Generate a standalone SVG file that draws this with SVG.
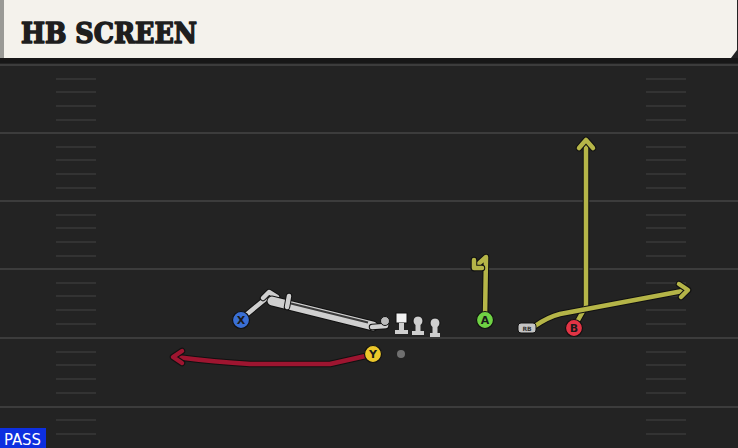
<svg xmlns="http://www.w3.org/2000/svg" width="738" height="448" viewBox="0 0 738 448">
<style>
.yard{stroke:#3c3c3c;stroke-width:2}
.hash{stroke:#333;stroke-width:2}
.ol{fill:none;stroke:#111;stroke-width:6.5;stroke-linecap:round;stroke-linejoin:round}
.rt{fill:none;stroke-width:4.5;stroke-linecap:round;stroke-linejoin:round}
.yel{stroke:#b5b548}
.red{stroke:#9e1530}
.gry{stroke:#cfcfcf}
.lbl{font-family:"DejaVu Sans",sans-serif;font-weight:bold;font-size:11px;fill:#1a1a1a;text-anchor:middle}
.lineman{fill:#cfcfcf}
</style>
<defs>
<g id="hashL">
<line class="hash" x1="56" x2="96" y1="0" y2="0"/>
<line class="hash" x1="646" x2="686" y1="0" y2="0"/>
</g>
</defs>
<rect x="0" y="0" width="738" height="448" fill="#232323"/>
<g id="field">
<line class="yard" x1="0" x2="738" y1="65" y2="65"/>
<line class="yard" x1="0" x2="738" y1="133" y2="133"/>
<line class="yard" x1="0" x2="738" y1="201" y2="201"/>
<line class="yard" x1="0" x2="738" y1="269" y2="269"/>
<line class="yard" x1="0" x2="738" y1="338" y2="338"/>
<line class="yard" x1="0" x2="738" y1="407" y2="407"/>
<use href="#hashL" y="79"/><use href="#hashL" y="92"/><use href="#hashL" y="106"/><use href="#hashL" y="120"/>
<use href="#hashL" y="147"/><use href="#hashL" y="160"/><use href="#hashL" y="174"/><use href="#hashL" y="188"/>
<use href="#hashL" y="215"/><use href="#hashL" y="228"/><use href="#hashL" y="242"/><use href="#hashL" y="256"/>
<use href="#hashL" y="283"/><use href="#hashL" y="296"/><use href="#hashL" y="310"/><use href="#hashL" y="324"/>
<use href="#hashL" y="352"/><use href="#hashL" y="365"/><use href="#hashL" y="379"/><use href="#hashL" y="393"/>
<use href="#hashL" y="420"/><use href="#hashL" y="434"/>
</g>
<g id="header">
<rect x="0" y="58" width="738" height="5" fill="#171717"/>
<path d="M0 0 H737 V50 L731 58 H0 Z" fill="#f4f2ec"/>
<rect x="0" y="0" width="4" height="58" fill="#9a9a96"/>
<text x="21" y="43" font-family="'DejaVu Serif',serif" font-weight="bold" font-size="28" textLength="176" lengthAdjust="spacingAndGlyphs" fill="#1e1e1e" stroke="#1e1e1e" stroke-width="1.6" stroke-linejoin="round">HB SCREEN</text>
</g>
<g id="connectors">
<!-- Y route -->
<path class="ol" d="M370 355 L330 364 L250 364 Q215 362 176 357"/>
<path class="rt red" d="M370 355 L330 364 L250 364 Q215 362 176 357"/>
<path class="ol" d="M182 351 L173 357 L182 363"/>
<path class="rt red" d="M182 351 L173 357 L182 363"/>
<!-- A route -->
<path class="ol" d="M485 318 L486 257 L474 268"/>
<path class="rt yel" d="M485 318 L486 257 L474 268"/>
<path class="ol" d="M474 260 L474 268 L482 268"/>
<path class="rt yel" d="M474 260 L474 268 L482 268"/>
<!-- B route -->
<path class="ol" d="M577 322 L586 306 L586 141"/>
<path class="rt yel" d="M577 322 L586 306 L586 141"/>
<path class="ol" d="M579 148 L586 140 L593 148"/>
<path class="rt yel" d="M579 148 L586 140 L593 148"/>
<!-- RB route -->
<path class="ol" d="M535 326 Q548 317 560 314 L688 290"/>
<path class="rt yel" d="M535 326 Q548 317 560 314 L688 290"/>
<path class="ol" d="M679 284 L688 290 L681 297"/>
<path class="rt yel" d="M679 284 L688 290 L681 297"/>
<!-- X route -->
<path class="ol" d="M246 315 L269 296"/>
<path class="rt gry" d="M246 315 L269 296"/>
<path class="ol" d="M263 298 L269 292 L277 297"/>
<path class="rt gry" d="M263 298 L269 292 L277 297"/>
<path d="M272 301 L373 326" fill="none" stroke="#111" stroke-width="11" stroke-linecap="round"/>
<path d="M272 301 L373 326" fill="none" stroke="#cfcfcf" stroke-width="9" stroke-linecap="round"/>
<path d="M291 303.5 L368 322.5" fill="none" stroke="#3a3a3a" stroke-width="2"/>
<path class="ol" d="M289 296 L287 307"/>
<path class="rt gry" d="M289 296 L287 307"/>
<path class="ol" d="M372 327 L386 326 L386 321"/>
<path class="rt gry" d="M372 327 L386 326 L386 321"/>
</g>
<g id="lineman-lt"><circle cx="385" cy="321" r="4.5" fill="#bbb" stroke="#111" stroke-width="1"/></g>
<g id="lineman-c">
<rect x="396" y="313" width="11" height="10" fill="#f2f2f2" stroke="#111" stroke-width="1"/>
<rect x="399" y="323" width="5" height="8" class="lineman"/>
<rect x="395" y="330" width="13" height="4" class="lineman"/>
</g>
<g id="lineman-rg">
<circle cx="418" cy="321" r="5" fill="#cfcfcf" stroke="#111" stroke-width="1"/>
<rect x="415.5" y="324" width="5" height="8" class="lineman"/>
<rect x="412" y="331" width="12" height="4" class="lineman"/>
</g>
<g id="lineman-rt">
<circle cx="435" cy="323" r="5" fill="#cfcfcf" stroke="#111" stroke-width="1"/>
<rect x="432.5" y="326" width="5" height="8" class="lineman"/>
<rect x="430" y="333" width="10" height="4" class="lineman"/>
</g>
<g id="ball"><circle cx="401" cy="354" r="4" fill="#707070"/></g>
<g id="X"><circle cx="241" cy="320" r="8.5" fill="#3a6fd4" stroke="#111" stroke-width="1.2"/><text class="lbl" x="241" y="324">X</text></g>
<g id="Y"><circle cx="373" cy="354" r="8.5" fill="#ecc72b" stroke="#111" stroke-width="1.2"/><text class="lbl" x="373" y="358">Y</text></g>
<g id="A"><circle cx="485" cy="320" r="8.5" fill="#6fd244" stroke="#111" stroke-width="1.2"/><text class="lbl" x="485" y="324">A</text></g>
<g id="B"><circle cx="574" cy="328" r="8.5" fill="#e23445" stroke="#111" stroke-width="1.2"/><text class="lbl" x="574" y="332">B</text></g>
<g id="RB"><rect x="518" y="323" width="18" height="10" rx="3" fill="#c4c4c4" stroke="#111" stroke-width="1"/><text x="527" y="331" font-family="'DejaVu Sans',sans-serif" font-weight="bold" font-size="6" fill="#333" text-anchor="middle">RB</text></g>
<g id="pass"><rect x="0" y="428" width="46" height="20" fill="#0d2fe0"/><text x="4" y="445" font-family="'DejaVu Sans Condensed','DejaVu Sans',sans-serif" font-size="15" textLength="37" lengthAdjust="spacingAndGlyphs" fill="#fff">PASS</text></g>
</svg>
